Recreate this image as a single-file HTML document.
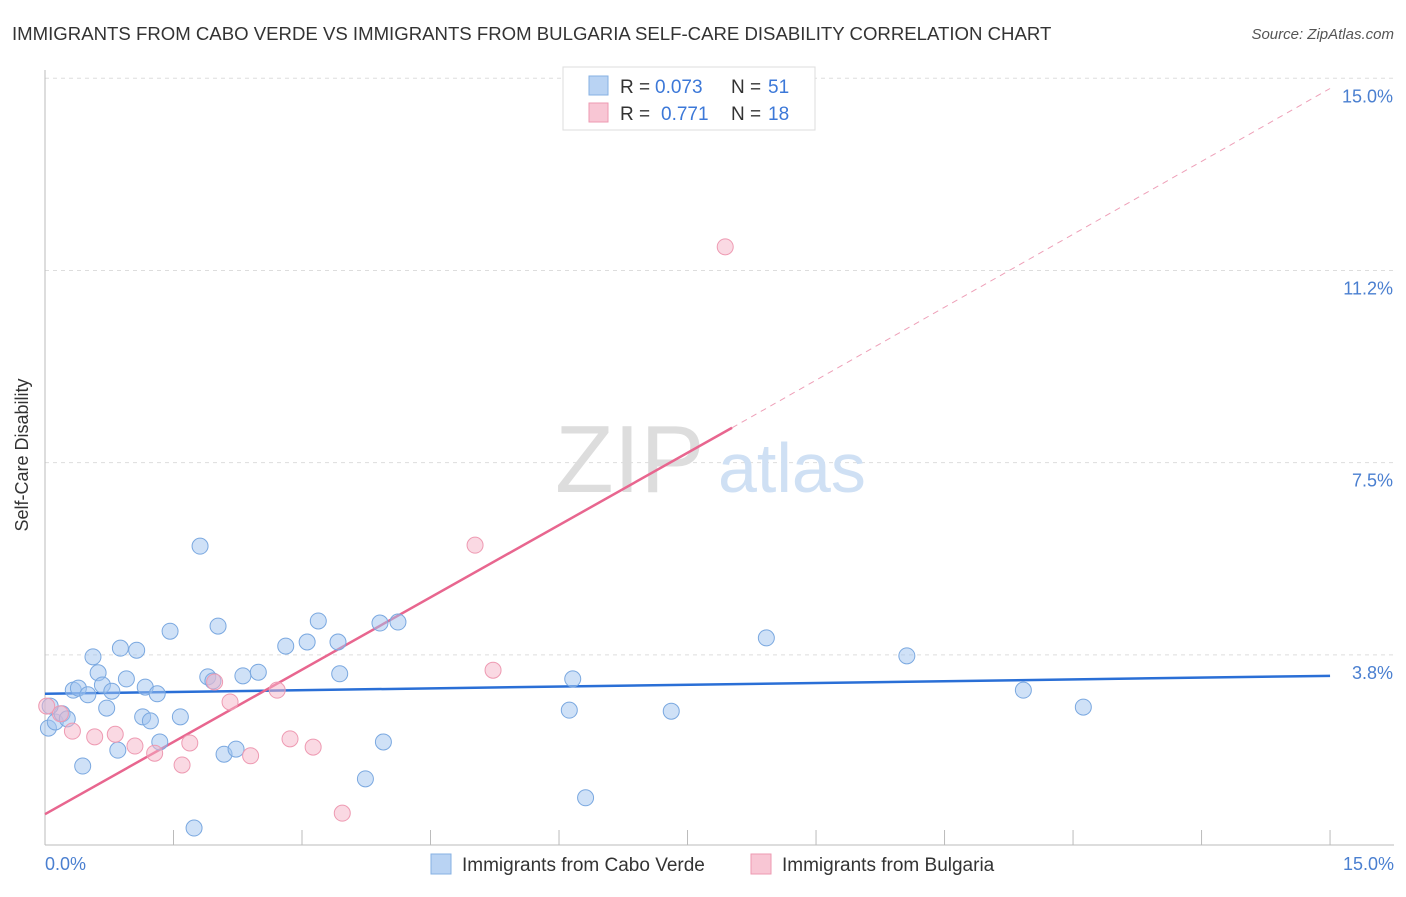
<!DOCTYPE html>
<html><head><meta charset="utf-8"><style>
body{margin:0;background:#fff;font-family:"Liberation Sans",sans-serif;}
svg text{font-family:"Liberation Sans",sans-serif;}
</style></head><body>
<svg width="1406" height="892" xmlns="http://www.w3.org/2000/svg">
<text x="12" y="40" font-size="18.6" fill="#333">IMMIGRANTS FROM CABO VERDE VS IMMIGRANTS FROM BULGARIA SELF-CARE DISABILITY CORRELATION CHART</text>
<text x="1394" y="39" font-size="15" fill="#555" font-style="italic" text-anchor="end">Source: ZipAtlas.com</text>
<g id="grid"></g>
<g id="axes"></g>
<text x="555" y="492" font-size="96" fill="#ddd" font-family="Liberation Serif">ZIP</text>
<text x="718" y="492" font-size="70" fill="#cfe0f4">atlas</text>
<g id="lines"></g>
<g id="points"></g>
<text x="28" y="455" font-size="18" fill="#333" text-anchor="middle" transform="rotate(-90 28 455)">Self-Care Disability</text>
<text x="45" y="870" font-size="18" fill="#4a7fd0">0.0%</text>
<text x="1394" y="870" font-size="18" fill="#4a7fd0" text-anchor="end">15.0%</text>
<g>
<rect x="563" y="67" width="252" height="63" fill="#fff" stroke="#ddd"/>
<rect x="589" y="76" width="19" height="19" fill="#b9d3f3" stroke="#86b0e3"/>
<rect x="589" y="103" width="19" height="19" fill="#f8c6d4" stroke="#ee9ab2"/>
<text x="620" y="93" font-size="19" fill="#333">R =</text>
<text x="655" y="93" font-size="19" fill="#3c78d8">0.073</text>
<text x="731" y="93" font-size="19" fill="#333">N =</text>
<text x="768" y="93" font-size="19" fill="#3c78d8">51</text>
<text x="620" y="120" font-size="19" fill="#333">R =</text>
<text x="661" y="120" font-size="19" fill="#3c78d8">0.771</text>
<text x="731" y="120" font-size="19" fill="#333">N =</text>
<text x="768" y="120" font-size="19" fill="#3c78d8">18</text>
</g>
<g>
<rect x="431" y="854" width="20" height="20" fill="#b9d3f3" stroke="#86b0e3"/>
<text x="462" y="871" font-size="19" fill="#333">Immigrants from Cabo Verde</text>
<rect x="751" y="854" width="20" height="20" fill="#f8c6d4" stroke="#ee9ab2"/>
<text x="782" y="871" font-size="19" fill="#333">Immigrants from Bulgaria</text>
</g>
</svg>
<script>
const yTicks=[3.75,7.5,11.25,15];
const yTickLabels=["3.8%","7.5%","11.2%","15.0%"];
const blueX=[0.04,0.12,0.20,0.26,0.33,0.39,0.44,0.50,0.56,0.62,0.67,0.72,0.78,0.85,0.88,0.95,1.07,1.14,1.17,1.23,1.31,1.34,1.46,1.58,1.74,1.81,1.90,1.96,2.02,2.09,2.23,2.31,2.49,2.81,3.06,3.19,3.42,3.44,3.74,3.91,3.95,4.12,6.12,6.16,6.31,7.31,8.42,10.06,11.42,12.12,0.06];
const blueY=[2.32,2.44,2.60,2.50,3.06,3.10,1.58,2.97,3.71,3.40,3.16,2.71,3.04,1.89,3.88,3.28,3.84,2.54,3.12,2.46,2.99,2.05,4.21,2.54,0.37,5.87,3.32,3.24,4.31,1.81,1.91,3.34,3.41,3.92,4.00,4.41,4.00,3.38,1.33,4.37,2.05,4.39,2.67,3.28,0.96,2.65,4.08,3.73,3.06,2.73,2.75];
const pinkX=[0.02,0.18,0.32,0.58,0.82,1.05,1.28,1.60,1.69,1.98,2.16,2.40,2.71,2.86,3.13,3.47,5.02,5.23,7.94];
const pinkY=[2.75,2.60,2.26,2.15,2.20,1.97,1.83,1.60,2.03,3.22,2.83,1.78,3.06,2.11,1.95,0.66,5.89,3.45,11.71];
const blueTrend=[[0,2.99],[15,3.34]];
const pinkTrend=[[0,0.64],[8.02,8.18],[15,14.8]];
const NS="http://www.w3.org/2000/svg";
const X=v=>45+v*85.67, Y=v=>847-v*51.25;
function mk(tag,attrs,parent){const e=document.createElementNS(NS,tag);for(const k in attrs)e.setAttribute(k,attrs[k]);document.getElementById(parent).appendChild(e);return e;}
yTicks.forEach((t,i)=>{
 const g=mk('line',{x1:45,x2:1394,y1:Y(t),y2:Y(t),stroke:'#ddd','stroke-dasharray':'4,4'},'grid');
 
 
 const tx=mk('text',{x:1393,y:Y(t)+24,'font-size':18,fill:'#4a7fd0','text-anchor':'end'},'grid');
 tx.textContent=yTickLabels[i];
 
 
});
const ax=mk('line',{x1:45,x2:45,y1:70,y2:845,stroke:'#bbb'},'axes');


const bx=mk('line',{x1:45,x2:1394,y1:845,y2:845,stroke:'#bbb'},'axes');


for(let i=0;i<=10;i++){const t=mk('line',{x1:X(i*1.5),x2:X(i*1.5),y1:830,y2:845,stroke:'#bbb'},'axes');
 
 }
const bl=mk('line',{x1:X(blueTrend[0][0]),y1:Y(blueTrend[0][1]),x2:X(blueTrend[1][0]),y2:Y(blueTrend[1][1]),stroke:'#2a6fd6','stroke-width':2.5},'lines');


const pl=mk('line',{x1:X(pinkTrend[0][0]),y1:Y(pinkTrend[0][1]),x2:X(pinkTrend[1][0]),y2:Y(pinkTrend[1][1]),stroke:'#e8668f','stroke-width':2.5},'lines');


const pd=mk('line',{x1:X(pinkTrend[1][0]),y1:Y(pinkTrend[1][1]),x2:X(pinkTrend[2][0]),y2:Y(pinkTrend[2][1]),stroke:'#eea0b8','stroke-width':1,'stroke-dasharray':'6,5'},'lines');


blueX.forEach((x,i)=>{const c=mk('circle',{cx:X(x),cy:Y(blueY[i]),r:8,fill:'rgba(160,196,240,0.5)',stroke:'#7aa8e0','stroke-width':1},'points');
 
 });
pinkX.forEach((x,i)=>{const c=mk('circle',{cx:X(x),cy:Y(pinkY[i]),r:8,fill:'rgba(245,180,200,0.5)',stroke:'#ee9ab2','stroke-width':1},'points');
 
 });
</script>
</body></html>
